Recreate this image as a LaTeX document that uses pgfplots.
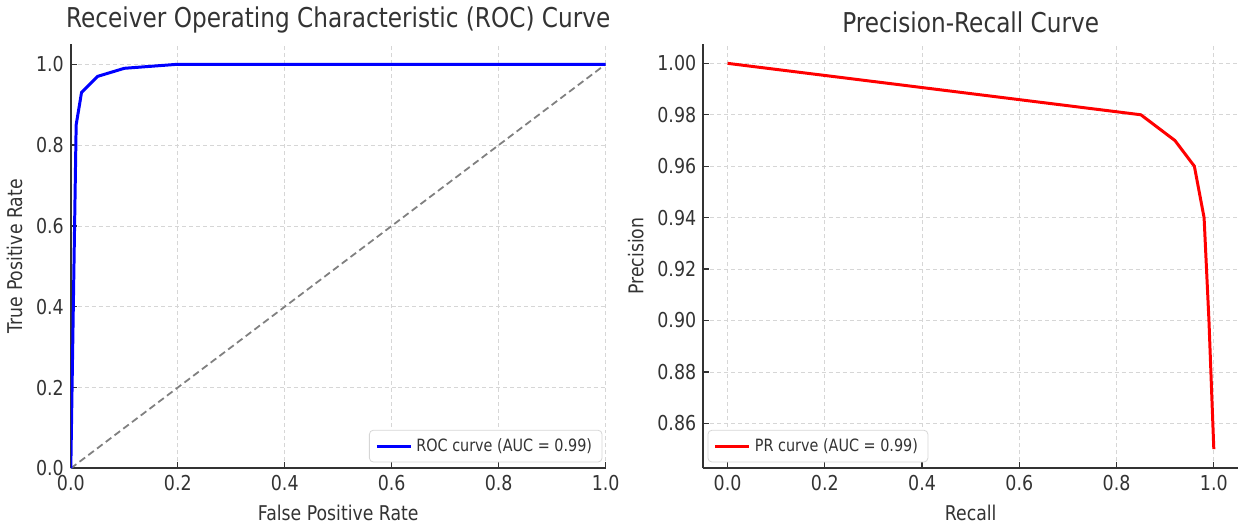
\documentclass[border=0pt]{standalone}
\usepackage{fontspec}
\setmainfont{DejaVu Sans}[FakeStretch=0.85]
\usepackage{pgfplots}
\pgfplotsset{compat=1.18}

\definecolor{txt}{HTML}{333333}
\definecolor{gridc}{HTML}{D6D6D6}
\definecolor{diag}{HTML}{808080}

\pgfplotsset{
  mpl/.style={
    scale only axis, width=268.5pt, height=213pt,
    axis x line*=bottom, axis y line*=left,
    axis line style={-, txt, line width=0.9pt},
    grid=major, major grid style={gridc, dash pattern=on 2pt off 1.5pt, line width=0.35pt},
    tick align=inside, major tick length=3pt,
    tick style={txt, line width=0.6pt},
    ticklabel style={font=\fontsize{10.3}{11}\selectfont, text=txt},
    label style={font=\fontsize{10.2}{11}\selectfont, text=txt},
    title style={font=\fontsize{13.7}{15}\selectfont, text=txt, yshift=-4pt},
    /pgf/number format/assume math mode=true,
    legend style={font=\fontsize{8.5}{9}\selectfont, draw=gridc, rounded corners=2pt, text=txt},
    legend cell align=left,
  }
}

\begin{document}
\begin{tikzpicture}
% ROC
\begin{axis}[mpl,
  title={Receiver Operating Characteristic (ROC) Curve},
  xlabel={False Positive Rate}, ylabel={True Positive Rate},
  xmin=0, xmax=1, ymin=0, ymax=1.05,
  xtick={0,0.2,0.4,0.6,0.8,1}, ytick={0,0.2,0.4,0.6,0.8,1},
  xticklabel style={/pgf/number format/.cd, fixed, fixed zerofill, precision=1},
  yticklabel style={/pgf/number format/.cd, fixed, fixed zerofill, precision=1},
  legend style={at={(0.994,0.014)}, anchor=south east},
]
\addplot[diag, dash pattern=on 3.5pt off 2pt, line width=0.9pt, forget plot] coordinates {(0,0) (1,1)};
\addplot[blue, line width=1.5pt] coordinates {
  (0,0) (0.01,0.85) (0.02,0.93) (0.05,0.97) (0.1,0.99) (0.2,1.0) (1,1)
};
\addlegendentry{ROC curve (AUC = 0.99)}
\end{axis}

% Precision-Recall
\begin{axis}[mpl, at={(317.5pt,0)},
  title={Precision-Recall Curve},
  xlabel={Recall}, ylabel={Precision},
  xmin=-0.05, xmax=1.05, ymin=0.8425, ymax=1.0075,
  xtick={0,0.2,0.4,0.6,0.8,1},
  ytick={0.86,0.88,0.90,0.92,0.94,0.96,0.98,1.00},
  xticklabel style={/pgf/number format/.cd, fixed, fixed zerofill, precision=1},
  yticklabel style={/pgf/number format/.cd, fixed, fixed zerofill, precision=2},
  legend style={at={(0.008,0.014)}, anchor=south west},
]
\addplot[red, line width=1.5pt] coordinates {
  (0,1.0) (0.85,0.98) (0.92,0.97) (0.96,0.96) (0.98,0.94) (0.99,0.90) (1.0,0.85)
};
\addlegendentry{PR curve (AUC = 0.99)}
\end{axis}
\end{tikzpicture}
\end{document}
